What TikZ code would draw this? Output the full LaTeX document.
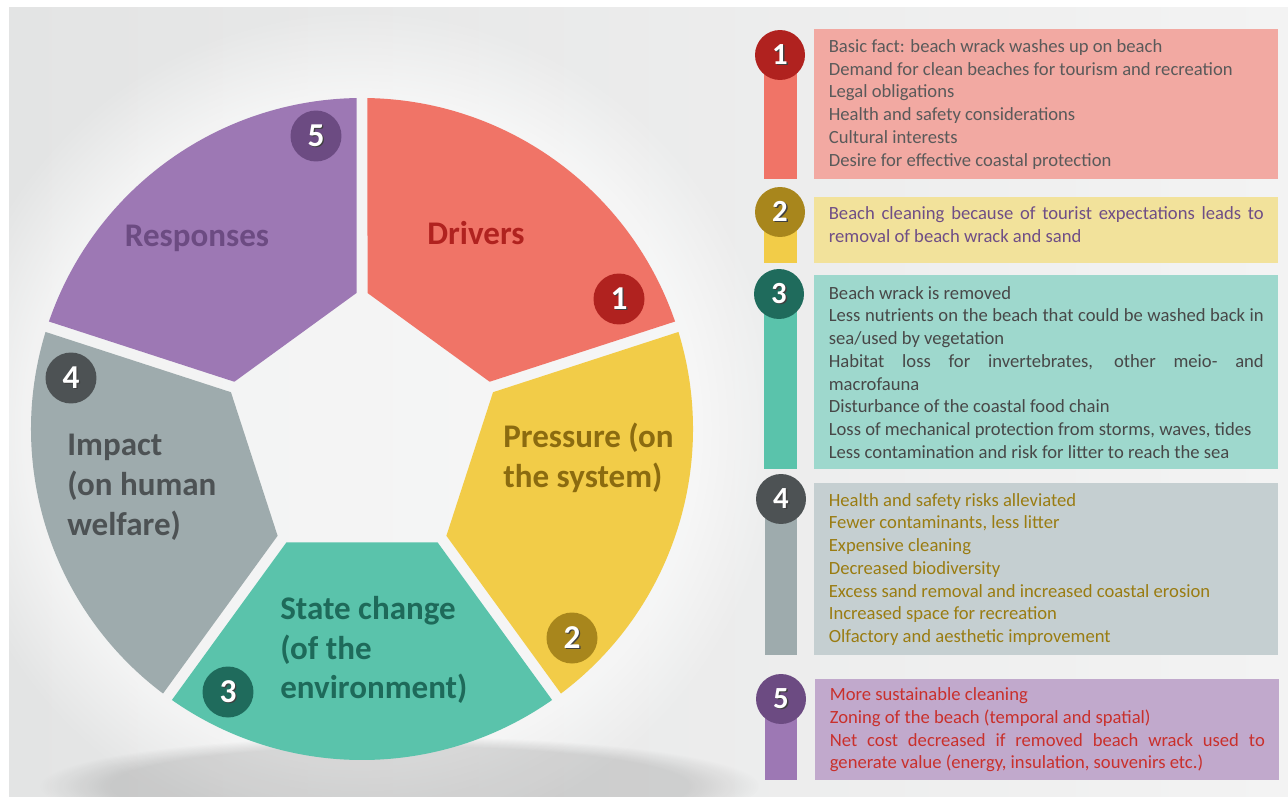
\documentclass[tikz,border=0pt]{standalone}
\usepackage{fontspec}
\setmainfont{Carlito}
\usetikzlibrary{calc,fadings}

\definecolor{bgleft}{HTML}{E3E4E4}
\definecolor{bgright}{HTML}{F3F3F3}
% wheel segments
\definecolor{drvfill}{HTML}{F07467}
\definecolor{prsfill}{HTML}{F2CC48}
\definecolor{stfill}{HTML}{5AC3AB}
\definecolor{impfill}{HTML}{9EABAD}
\definecolor{rspfill}{HTML}{9D78B4}
% badges
\definecolor{drvdark}{HTML}{B0221F}
\definecolor{prsdark}{HTML}{A8861C}
\definecolor{stdark}{HTML}{1F6B5C}
\definecolor{impdark}{HTML}{4D5254}
\definecolor{rspdark}{HTML}{6C4B82}
% segment labels
\definecolor{prslabel}{HTML}{8B6B10}
\definecolor{stlabel}{HTML}{1E6A5A}
% side boxes
\definecolor{drvbox}{HTML}{F2A9A2}
\definecolor{prsbox}{HTML}{F2E29B}
\definecolor{stbox}{HTML}{9ED8CD}
\definecolor{impbox}{HTML}{C5CFD1}
\definecolor{rspbox}{HTML}{C1A9CC}
\definecolor{drvtext}{HTML}{5A5A5A}
\definecolor{prstext}{HTML}{6F4E86}
\definecolor{sttext}{HTML}{484848}
\definecolor{imptext}{HTML}{9A7C12}
\definecolor{rsptext}{HTML}{C9302C}

\newcommand\digshadow[1]{\rlap{\kern0.8pt\raisebox{-0.8pt}{\textcolor{black!75}{#1}}}#1}

\begin{document}
\begin{tikzpicture}[x=0.02cm, y=0.02cm,
  seglabel/.style={font=\fontsize{18.8}{22.7}\selectfont\bfseries, align=left, inner sep=0pt},
  badge/.style={circle, inner sep=0pt, minimum size=1.02cm, text=white, font=\fontsize{19}{19}\selectfont\bfseries},
  sidebadge/.style={badge, minimum size=1cm, font=\fontsize{17.5}{17.5}\selectfont\bfseries},
  infobox/.style={anchor=north west, inner xsep=0.29cm, inner ysep=0pt, text width=8.7cm, align=justify, font=\fontsize{10.6}{12.95}\selectfont}]
  \useasboundingbox (0,0) rectangle (1288,796);

  % background
  \fill[left color=bgleft, right color=bgright] (9,0) rectangle (1288,788);
  \begin{scope}
    \clip (9,0) rectangle (1288,788);
    \fill[white, opacity=.55, path fading=circle with fuzzy edge 20 percent] (362,367) circle (420);
    \fill[black, opacity=.12, path fading=circle with fuzzy edge 20 percent] (400,10) ellipse (360 and 50);
  \end{scope}

  % wheel
  \coordinate (C) at (362,367);
  \foreach \a/\col in {18/drvfill, -54/prsfill, -126/stfill, 162/impfill, 90/rspfill}{
    \path (C) ++(\a:140) coordinate (v1) (C) ++(\a+72:140) coordinate (v2);
    \fill[\col] ($(v1)!0.0413!(v2)$) -- ($(C)+(\a+0.95:331)$)
      arc[start angle=\a+0.95, end angle=\a+71.05, radius=331]
      -- ($(v2)!0.0413!(v1)$) -- cycle;
  }

  \node (drv) [seglabel, text=drvdark] at (476,563) {Drivers};
  \node (rsp) [seglabel, text=rspdark] at (197,558) {Responses};
  \node (prs) [seglabel, text=prslabel, anchor=west] at (503,338) {Pressure (on\\the system)};
  \node (imp) [seglabel, text=impdark, anchor=west] at (67,309) {Impact\\(on human\\welfare)};
  \node (st) [seglabel, text=stlabel, anchor=west] at (280,146) {State change\\(of the\\environment)};

  \node (w1) [badge, fill=drvdark] at (619,497) {\digshadow{1}};
  \node (w2) [badge, fill=prsdark] at (572,158) {\digshadow{2}};
  \node (w3) [badge, fill=stdark] at (228,104) {\digshadow{3}};
  \node (w4) [badge, fill=impdark] at (71,418) {\digshadow{4}};
  \node (w5) [badge, fill=rspdark] at (316,660) {\digshadow{5}};

  % side bars
  \fill[drvfill] (764,617) rectangle (797,741);
  \fill[prsfill] (764,533) rectangle (797,584);
  \fill[stfill] (764,327) rectangle (797,502);
  \fill[impfill] (765,141) rectangle (797,297);
  \fill[rspfill] (765,16) rectangle (797,97);

  \node (s1) [sidebadge, fill=drvdark] at (780,741) {\digshadow{1}};
  \node (s2) [sidebadge, fill=prsdark] at (780,584) {\digshadow{2}};
  \node (s3) [sidebadge, fill=stdark] at (779,502) {\digshadow{3}};
  \node (s4) [sidebadge, fill=impdark] at (781,297) {\digshadow{4}};
  \node (s5) [sidebadge, fill=rspdark] at (781,97) {\digshadow{5}};

  % side boxes
  \node (box1) [infobox, fill=drvbox, text=drvtext, minimum height=3cm] at (814,767)
    {Basic fact: beach wrack washes up on beach\\
     Demand for clean beaches for tourism and recreation\\
     Legal obligations\\
     Health and safety considerations\\
     Cultural interests\\
     Desire for effective coastal protection};
  \node (box2) [infobox, fill=prsbox, text=prstext, minimum height=1.32cm] at (814,599)
    {Beach cleaning because of tourist expectations leads to\linebreak
     removal of beach wrack and sand\rule[-0.22cm]{0pt}{0pt}};
  \node (box3) [infobox, fill=stbox, text=sttext, minimum height=3.88cm] at (814,521)
    {Beach wrack is removed\\
     Less nutrients on the beach that could be washed back in\linebreak
     sea/used by vegetation\\
     Habitat loss for invertebrates, other meio- and\linebreak
     macrofauna\\
     Disturbance of the coastal food chain\\
     Loss of mechanical protection from storms, waves, tides\\
     Less contamination and risk for litter to reach the sea};
  \node (box4) [infobox, fill=impbox, text=imptext, minimum height=3.44cm] at (814,313)
    {Health and safety risks alleviated\\
     Fewer contaminants, less litter\\
     Expensive cleaning\\
     Decreased biodiversity\\
     Excess sand removal and increased coastal erosion\\
     Increased space for recreation\\
     Olfactory and aesthetic improvement};
  \node (box5) [infobox, fill=rspbox, text=rsptext, minimum height=2.02cm] at (815,117)
    {More sustainable cleaning\\
     Zoning of the beach (temporal and spatial)\\
     Net cost decreased if removed beach wrack used to\linebreak
     generate value (energy, insulation, souvenirs etc.)};
\end{tikzpicture}
\end{document}
